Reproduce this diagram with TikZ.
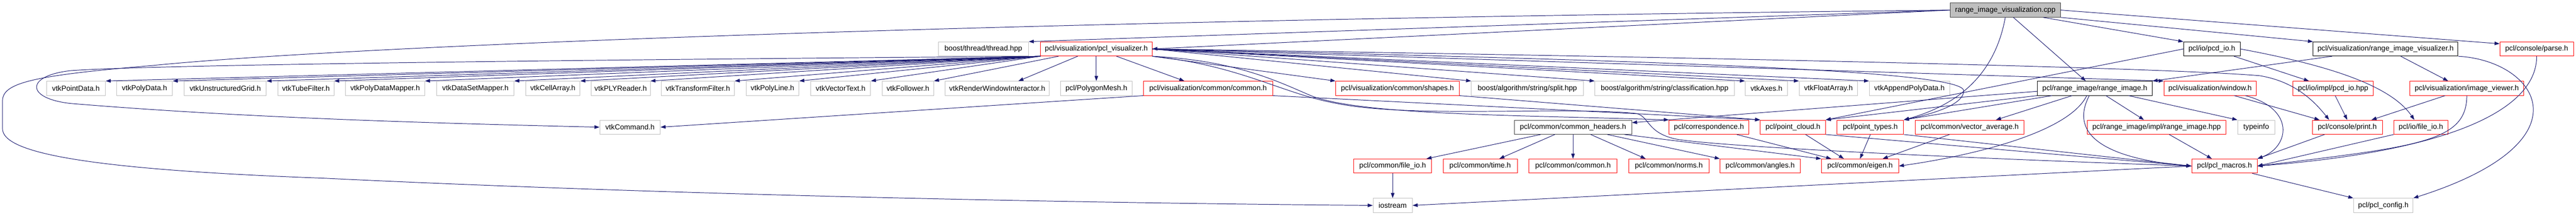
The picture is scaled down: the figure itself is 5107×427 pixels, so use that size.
\documentclass[tikz,border=0pt]{standalone}
\usepackage{fontspec}
\setmainfont{Liberation Sans}
\usetikzlibrary{arrows.meta}

\definecolor{edgeblue}{HTML}{191970}
\definecolor{boxgrey}{HTML}{BFBFBF}
\definecolor{boxdark}{HTML}{404040}
\newcommand{\hdrfont}{\fontsize{14.5pt}{16pt}\selectfont}

\begin{document}
\begin{tikzpicture}[x=1pt,y=-1pt]

\tikzset{file/.style = {shape=rectangle,draw=boxgrey,line width=1pt,minimum height=28pt,inner sep=0pt,font=\hdrfont}}
\tikzset{docfile/.style = {file,draw=red}}
\tikzset{srcfile/.style = {file,draw=black}}
\tikzset{mainfile/.style = {file,draw=boxdark,fill=boxgrey}}
\tikzset{edge/.style = {-{Triangle[length=10pt,width=7pt]},draw=edgeblue,line width=1pt}}

\useasboundingbox (0,0) rectangle (5107,427);

\node[mainfile,minimum width=219pt] (rv) at (3975.5,20) {range\_image\_visualization.cpp};
%row 2
\node[file,minimum width=179pt] (thread) at (1949.5,97) {boost/thread/thread.hpp};
\node[docfile,minimum width=221pt] (vis) at (2173.5,97) {pcl/visualization/pcl\_visualizer.h};
\node[srcfile,minimum width=112pt] (pcdio) at (4385,97) {pcl/io/pcd\_io.h};
\node[srcfile,minimum width=287pt] (rivis) at (4729.5,97) {pcl/visualization/range\_image\_visualizer.h};
\node[docfile,minimum width=146pt] (parse) at (5029,97) {pcl/console/parse.h};
%row 3
\node[file,minimum width=117pt] (pointdata) at (150.5,175) {vtkPointData.h};
\node[file,minimum width=111pt] (polydata) at (286.5,175) {vtkPolyData.h};
\node[file,minimum width=163pt] (ugrid) at (446.5,175) {vtkUnstructuredGrid.h};
\node[file,minimum width=111pt] (tube) at (606.5,175) {vtkTubeFilter.h};
\node[file,minimum width=157pt] (pdmapper) at (763.5,175) {vtkPolyDataMapper.h};
\node[file,minimum width=153pt] (dsmapper) at (942.5,175) {vtkDataSetMapper.h};
\node[file,minimum width=108pt] (cellarray) at (1096,175) {vtkCellArray.h};
\node[file,minimum width=117pt] (plyreader) at (1230.5,175) {vtkPLYReader.h};
\node[file,minimum width=145pt] (transform) at (1383.5,175) {vtkTransformFilter.h};
\node[file,minimum width=105pt] (polyline) at (1531.5,175) {vtkPolyLine.h};
\node[file,minimum width=119pt] (vectext) at (1666.5,175) {vtkVectorText.h};
\node[file,minimum width=102pt] (follower) at (1800,175) {vtkFollower.h};
\node[file,minimum width=206pt] (rwi) at (1977,175) {vtkRenderWindowInteractor.h};
\node[file,minimum width=141pt] (polymesh) at (2173.5,175) {pcl/PolygonMesh.h};
\node[docfile,minimum width=256pt] (viscommon) at (2395,175) {pcl/visualization/common/common.h};
\node[docfile,minimum width=245pt] (shapes) at (2770.5,175) {pcl/visualization/common/shapes.h};
\node[file,minimum width=222pt] (split) at (3028,175) {boost/algorithm/string/split.hpp};
\node[file,minimum width=276pt] (classif) at (3300,175) {boost/algorithm/string/classification.hpp};
\node[file,minimum width=84pt] (axes) at (3502,175) {vtkAxes.h};
\node[file,minimum width=116pt] (floatarr) at (3625,175) {vtkFloatArray.h};
\node[file,minimum width=159pt] (append) at (3785.5,175) {vtkAppendPolyData.h};
\node[srcfile,minimum width=228pt] (rangeimg) at (4153,175) {pcl/range\_image/range\_image.h};
\node[docfile,minimum width=183pt] (window) at (4381.5,175) {pcl/visualization/window.h};
\node[docfile,minimum width=159pt] (pcdhpp) at (4625.5,175) {pcl/io/impl/pcd\_io.hpp};
\node[docfile,minimum width=225pt] (imgviewer) at (4890.5,175) {pcl/visualization/image\_viewer.h};
%row 4
\node[file,minimum width=120pt] (vtkcommand) at (1249,252) {vtkCommand.h};
\node[file,draw=boxdark,minimum width=233pt] (comheaders) at (3118.5,252) {pcl/common/common\_headers.h};
\node[docfile,minimum width=158pt] (corresp) at (3388,252) {pcl/correspondence.h};
\node[docfile,minimum width=129pt] (pointcloud) at (3554.5,252) {pcl/point\_cloud.h};
\node[docfile,minimum width=132pt] (pointtypes) at (3708,252) {pcl/point\_types.h};
\node[docfile,minimum width=216pt] (vecavg) at (3905,252) {pcl/common/vector\_average.h};
\node[docfile,minimum width=275pt] (rihpp) at (4275.5,252) {pcl/range\_image/impl/range\_image.hpp};
\node[file,minimum width=74pt] (typeinfo) at (4473,252) {typeinfo};
\node[docfile,minimum width=139pt] (print) at (4653.5,252) {pcl/console/print.h};
\node[docfile,minimum width=107pt] (iofileio) at (4799.5,252) {pcl/io/file\_io.h};
%row 5
\node[docfile,minimum width=154pt] (cfileio) at (2761,329) {pcl/common/file\_io.h};
\node[docfile,minimum width=147pt] (ctime) at (2934.5,329) {pcl/common/time.h};
\node[docfile,minimum width=175pt] (ccommon) at (3118.5,329) {pcl/common/common.h};
\node[docfile,minimum width=159pt] (norms) at (3308.5,329) {pcl/common/norms.h};
\node[docfile,minimum width=159pt] (angles) at (3489.5,329) {pcl/common/angles.h};
\node[docfile,minimum width=153pt] (eigen) at (3687.5,329) {pcl/common/eigen.h};
\node[docfile,minimum width=130pt] (macros) at (4410,329) {pcl/pcl\_macros.h};
%row 6
\node[file,minimum width=78pt] (iostream) at (2761,407) {iostream};
\node[file,minimum width=118pt] (config) at (4725,407) {pcl/pcl\_config.h};

%edges from the .cpp
\draw[edge] (rv.west) to (thread.north east);
\draw[edge] (rv.west) to (vis.east);
\draw[edge] (rv.west) .. controls (2000,40) and (700,90) .. (300,130) .. controls (60,150) and (5,165) .. (5,200) -- (5,255) .. controls (5,300) and (150,335) .. (640,353) .. controls (1300,385) and (2100,402) .. (iostream.west);
\draw[edge] (rv.south) .. controls (3960,120) and (3910,200) .. (pointtypes.north east);
\draw[edge] ([xshift=16pt]rv.south) to ([xshift=-18pt]rangeimg.north);
\draw[edge] ([xshift=75pt]rv.south) to (pcdio.north west);
\draw[edge] (rv.south east) to (rivis.north west);
\draw[edge] (rv.east) to (parse.172);
%edges from pcl_visualizer.h
\draw[edge] (vis.south west) .. controls (1200,118) and (300,128) .. (140,140) .. controls (50,150) and (50,195) .. (140,205) .. controls (500,235) and (900,245) .. (vtkcommand.west);
\draw[edge] (vis.south west) to (pointdata.north east);
\draw[edge] (vis.south west) to (polydata.north east);
\draw[edge] (vis.south west) to (ugrid.north east);
\draw[edge] (vis.south west) to (tube.north east);
\draw[edge] (vis.south west) to (pdmapper.north east);
\draw[edge] (vis.south west) to (dsmapper.north east);
\draw[edge] (vis.south west) to (cellarray.north east);
\draw[edge] (vis.south west) to (plyreader.north east);
\draw[edge] (vis.south west) to (transform.north east);
\draw[edge] (vis.south west) to (polyline.north east);
\draw[edge] (vis.south west) to (vectext.north east);
\draw[edge] ([xshift=-75pt]vis.south) to (follower.north east);
\draw[edge] ([xshift=-37pt]vis.south) to ([xshift=42pt]rwi.north);
\draw[edge] (vis.south) to (polymesh.north);
\draw[edge] ([xshift=40pt]vis.south) to ([xshift=-47pt]viscommon.north);
\draw[edge] (vis.south east) to (shapes.north west);
\draw[edge] (vis.east) to (split.north west);
\draw[edge] (vis.east) to (classif.north west);
\draw[edge] (vis.east) to (axes.north west);
\draw[edge] (vis.east) to (floatarr.north west);
\draw[edge] (vis.east) to (append.north west);
\draw[edge] (vis.east) to (window.north west);
\draw[edge] (vis.east) .. controls (3300,120) and (3895,140) .. (3893,180) .. controls (3893,210) and (3820,228) .. (pointtypes.north east);
\draw[edge] (vis.east) .. controls (3500,115) and (4300,135) .. (4480,150) .. controls (4540,160) and (4580,190) .. ([xshift=-36pt]print.north);
\draw[edge] (vis.south east) .. controls (2450,120) and (2530,160) .. (2600,190) .. controls (2700,228) and (3000,228) .. (corresp.north west);
\draw[edge] (vis.south east) .. controls (2460,130) and (2540,185) .. (2650,205) .. controls (2800,235) and (3100,210) .. (3245,225) .. controls (3270,232) and (3265,262) .. (3320,275) .. controls (3380,288) and (3800,310) .. (macros.west);
%visualization headers
\draw[edge] (viscommon.south west) to (vtkcommand.east);
\draw[edge] (viscommon.south east) to (pointcloud.north west);
\draw[edge] (shapes.south east) to (pointcloud.north west);
\draw[edge] ([xshift=-106pt]rivis.south) to (rangeimg.north east);
\draw[edge] ([xshift=30pt]rivis.south) to ([xshift=-37pt]imgviewer.north);
\draw[edge] (rivis.south east) .. controls (5030,120) and (5140,280) .. (config.north east);
\draw[edge] (parse.south) .. controls (5029,220) and (4850,300) .. (macros.east);
\draw[edge] ([xshift=-43pt]imgviewer.south) to ([xshift=48pt]print.north);
\draw[edge] (imgviewer.south) .. controls (4890,280) and (4800,290) .. (macros.east);
\draw[edge] ([xshift=48pt]window.south) to ([xshift=-55pt]print.north);
\draw[edge] ([xshift=70pt]window.south) .. controls (4550,215) and (4540,290) .. (macros.north east);
%io
\draw[edge] (pcdio.west) to (pointcloud.north east);
\draw[edge] ([xshift=44pt]pcdio.south) to ([xshift=-48pt]pcdhpp.north);
\draw[edge] (pcdio.east) .. controls (4620,130) and (4740,170) .. ([xshift=-13pt]iofileio.north);
\draw[edge] ([xshift=4pt]pcdhpp.south) to (print.north);
\draw[edge] ([xshift=-45pt]print.south) to (macros.north east);
\draw[edge] (iofileio.south west) to (macros.east);
%range image
\draw[edge] ([yshift=-6pt]rangeimg.west) to ([yshift=9pt]comheaders.east);
\draw[edge] (rangeimg.south west) to (pointcloud.north east);
\draw[edge] ([xshift=-85pt]rangeimg.south) to (pointtypes.north east);
\draw[edge] ([xshift=-45pt]rangeimg.south) to ([xshift=52pt]vecavg.north);
\draw[edge] ([xshift=-16pt]rangeimg.south) .. controls (4100,265) and (3900,310) .. (eigen.east);
\draw[edge] ([xshift=-11pt]rangeimg.south) .. controls (4100,270) and (4180,315) .. (macros.west);
\draw[edge] ([xshift=22pt]rangeimg.south) to ([xshift=-25pt]rihpp.north);
\draw[edge] ([xshift=67pt]rangeimg.south) to (typeinfo.north west);
\draw[edge] ([xshift=25pt]rihpp.south) to ([xshift=-25pt]macros.north);
\draw[edge] ([xshift=-40pt]vecavg.south) to ([xshift=45pt]eigen.north);
%common
\draw[edge] (pointtypes.south) to (eigen.north);
\draw[edge] (pointtypes.south east) to (macros.west);
\draw[edge] ([xshift=25pt]pointcloud.south) to ([xshift=-32pt]eigen.north);
\draw[edge] (pointcloud.south east) to (macros.west);
\draw[edge] ([xshift=55pt]corresp.south) to ([xshift=-57pt]eigen.north);
\draw[edge] ([xshift=-64pt]comheaders.south) to ([xshift=67pt]cfileio.north);
\draw[edge] ([xshift=-36pt]comheaders.south) to ([xshift=38pt]ctime.north);
\draw[edge] (comheaders.south) to (ccommon.north);
\draw[edge] ([xshift=35pt]comheaders.south) to ([xshift=-46pt]norms.north);
\draw[edge] ([xshift=68pt]comheaders.south) to (angles.north west);
\draw[edge] ([xshift=102pt]comheaders.south) to (eigen.north west);
\draw[edge] (cfileio.south) to (iostream.north);
\draw[edge] (macros.west) to (iostream.east);
\draw[edge] ([xshift=55pt]macros.south) to (config.north west);

\end{tikzpicture}
\end{document}
